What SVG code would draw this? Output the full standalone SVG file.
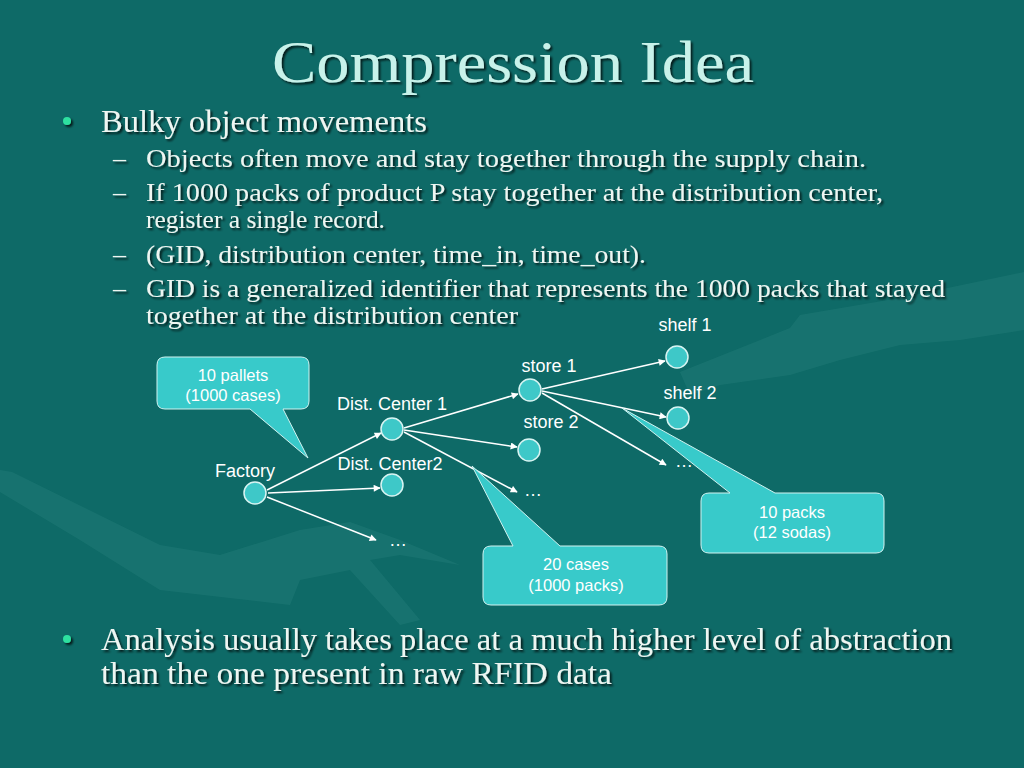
<svg xmlns="http://www.w3.org/2000/svg" width="1024" height="768" viewBox="0 0 1024 768">
<defs>
<style>
.title{font-family:"Liberation Serif",serif;font-size:60px;fill:#c8f2ea}
.b1{font-family:"Liberation Serif",serif;font-size:32px;fill:#eef6f2}
.b2{font-family:"Liberation Serif",serif;font-size:26px;fill:#eef6f2}
.dot{fill:#2ee0a0}
.lbl{font-family:"Liberation Sans",sans-serif;font-size:18px;fill:#ffffff}
.cl{font-family:"Liberation Sans",sans-serif;font-size:16.5px;fill:#ffffff;text-anchor:middle}
.node{fill:#3ec8c8;stroke:#d8f4f2;stroke-width:1.5}
.edge{stroke:#ffffff;stroke-width:1.5;fill:none;marker-end:url(#ah)}
.call{fill:#38caca;stroke:#d0f2f0;stroke-width:1}
</style>
<marker id="ah" viewBox="0 0 10 10" refX="9" refY="5" markerWidth="9" markerHeight="7" markerUnits="userSpaceOnUse" orient="auto">
<path d="M0,0 L10,5 L0,10 z" fill="#ffffff"/>
</marker>
<filter id="sh" x="-5%" y="-20%" width="110%" height="140%">
<feDropShadow dx="2" dy="2" stdDeviation="0.8" flood-color="#000" flood-opacity="0.75"/>
</filter>
</defs>
<rect width="1024" height="768" fill="#0e6a67"/>
<g id="background" fill="#3a928d" opacity="0.22">
<path d="M680,372 L790,328 L800,315 L900,298 L1024,272 L1024,330 L960,340 L900,345 L840,360 L790,375 L720,385 L690,395 Z"/>
<path d="M0,470 L12,472 L160,545 L220,555 L300,530 L350,522 L400,540 L460,565 L400,555 L370,560 L420,620 L400,625 L350,570 L300,580 L290,605 L160,590 L80,540 L0,492 Z"/>
</g>
<g id="title"><text class="title" x="513" y="82" text-anchor="middle" textLength="482" lengthAdjust="spacingAndGlyphs" filter="url(#sh)">Compression Idea</text></g>
<g id="bullets" filter="url(#sh)">
<circle class="dot" cx="67" cy="121" r="4"/>
<text class="b1" x="101" y="132" textLength="326" lengthAdjust="spacingAndGlyphs">Bulky object movements</text>
<text class="b2" x="113" y="167">–</text>
<text class="b2" x="146" y="167" textLength="720" lengthAdjust="spacingAndGlyphs">Objects often move and stay together through the supply chain.</text>
<text class="b2" x="113" y="201">–</text>
<text class="b2" x="146" y="201" textLength="737" lengthAdjust="spacingAndGlyphs">If 1000 packs of product P stay together at the distribution center,</text>
<text class="b2" x="146" y="228" textLength="239" lengthAdjust="spacingAndGlyphs">register a single record.</text>
<text class="b2" x="113" y="263">–</text>
<text class="b2" x="146" y="263" textLength="500" lengthAdjust="spacingAndGlyphs">(GID, distribution center, time_in, time_out).</text>
<text class="b2" x="113" y="297">–</text>
<text class="b2" x="146" y="297" textLength="799" lengthAdjust="spacingAndGlyphs">GID is a generalized identifier that represents the 1000 packs that stayed</text>
<text class="b2" x="146" y="324" textLength="372" lengthAdjust="spacingAndGlyphs">together at the distribution center</text>
<circle class="dot" cx="67" cy="639" r="4"/>
<text class="b1" x="101" y="650" textLength="851" lengthAdjust="spacingAndGlyphs">Analysis usually takes place at a much higher level of abstraction</text>
<text class="b1" x="101" y="684" textLength="511" lengthAdjust="spacingAndGlyphs">than the one present in raw RFID data</text>
</g>
<g id="connectors">
<line class="edge" x1="267" y1="490" x2="381" y2="433"/>
<line class="edge" x1="268" y1="493" x2="380" y2="488"/>
<line class="edge" x1="267" y1="497" x2="376" y2="540"/>
<line class="edge" x1="404" y1="428" x2="518" y2="394"/>
<line class="edge" x1="404" y1="430" x2="517" y2="447"/>
<line class="edge" x1="404" y1="432" x2="517" y2="492"/>
<line class="edge" x1="542" y1="389" x2="665" y2="361"/>
<line class="edge" x1="542" y1="391" x2="666" y2="417"/>
<line class="edge" x1="542" y1="393" x2="666" y2="465"/>
</g>
<g id="factory"><circle class="node" cx="255" cy="493" r="11"/><text class="lbl" x="245" y="477" text-anchor="middle">Factory</text></g>
<g id="dc1"><circle class="node" cx="392" cy="429" r="11"/><text class="lbl" x="392" y="410" text-anchor="middle">Dist. Center 1</text></g>
<g id="dc2"><circle class="node" cx="392" cy="485" r="11"/><text class="lbl" x="390" y="470" text-anchor="middle">Dist. Center2</text></g>
<g id="store1"><circle class="node" cx="530" cy="390" r="11"/><text class="lbl" x="549" y="372" text-anchor="middle">store 1</text></g>
<g id="store2"><circle class="node" cx="529" cy="450" r="11"/><text class="lbl" x="551" y="428" text-anchor="middle">store 2</text></g>
<g id="shelf1"><circle class="node" cx="677" cy="357" r="11"/><text class="lbl" x="685" y="331" text-anchor="middle">shelf 1</text></g>
<g id="shelf2"><circle class="node" cx="678" cy="418" r="11"/><text class="lbl" x="690" y="399" text-anchor="middle">shelf 2</text></g>
<g id="ellipses">
<text class="lbl" x="398" y="546" text-anchor="middle">…</text>
<text class="lbl" x="533" y="496" text-anchor="middle">…</text>
<text class="lbl" x="684" y="467" text-anchor="middle">…</text>
</g>
<g id="callout-pallets">
<path class="call" d="M165,357 H301 Q309,357 309,365 V401 Q309,409 301,409 H283 L308,458 L250,409 H165 Q157,409 157,401 V365 Q157,357 165,357 Z"/>
<text class="cl" x="233" y="381">10 pallets</text>
<text class="cl" x="233" y="401">(1000 cases)</text>
</g>
<g id="callout-cases">
<path class="call" d="M491,546 H513 L472,466 L560,546 H659 Q667,546 667,554 V597 Q667,605 659,605 H491 Q483,605 483,597 V554 Q483,546 491,546 Z"/>
<text class="cl" x="576" y="570">20 cases</text>
<text class="cl" x="576" y="591">(1000 packs)</text>
</g>
<g id="callout-packs">
<path class="call" d="M709,493 H730 L622,408 L775,493 H876 Q884,493 884,501 V545 Q884,553 876,553 H709 Q701,553 701,545 V501 Q701,493 709,493 Z"/>
<text class="cl" x="792" y="518">10 packs</text>
<text class="cl" x="792" y="538">(12 sodas)</text>
</g>
</svg>
